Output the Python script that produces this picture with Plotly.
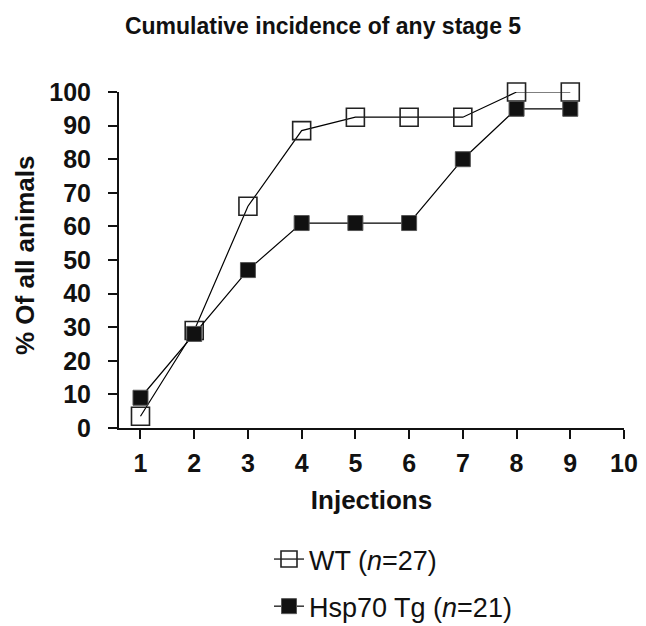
import plotly.graph_objects as go

injections = [1, 2, 3, 4, 5, 6, 7, 8, 9]
wt_values = [3.5, 29, 66, 88.5, 92.5, 92.5, 92.5, 100, 100]
hsp_values = [9, 28, 47, 61, 61, 61, 80, 95, 95]
x_ticks = [1, 2, 3, 4, 5, 6, 7, 8, 9, 10]
y_ticks = [0, 10, 20, 30, 40, 50, 60, 70, 80, 90, 100]

FONT = "Liberation Sans, Arial, sans-serif"
W, H = 646, 626

fig = go.Figure()
fig.add_trace(go.Scatter(
    x=injections, y=wt_values, mode="lines+markers",
    name="WT (<i>n</i>=27)", legendgroup="wt",
    line=dict(color="black", width=1.2),
    marker=dict(symbol="square-open", size=18, color="#222",
                line=dict(width=1.6, color="#222")),
    cliponaxis=False,
))
fig.add_trace(go.Scatter(
    x=injections, y=hsp_values, mode="lines+markers",
    name="Hsp70 Tg (<i>n</i>=21)", legendgroup="hsp",
    line=dict(color="black", width=1.2),
    marker=dict(symbol="square", size=15, color="#111",
                line=dict(width=1, color="#555")),
    cliponaxis=False,
))

fig.update_layout(
    width=W, height=H,
    margin=dict(l=119, r=22, t=92, b=198, autoexpand=False),
    paper_bgcolor="white", plot_bgcolor="white",
    font=dict(family=FONT, color="#111"),
    title=dict(text="<b>Cumulative incidence of any stage 5</b>",
               font=dict(size=23, family=FONT, color="#111"),
               x=0.5, xanchor="center", xref="container",
               y=1 - 26 / H, yanchor="middle", yref="container"),
    showlegend=True,
    legend=dict(
        x=269 / W, xref="container", xanchor="left",
        y=1 - 535 / H, yref="container", yanchor="top",
        font=dict(size=27, family=FONT, color="#111"),
        tracegroupgap=9, bgcolor="rgba(0,0,0,0)",
    ),
    xaxis=dict(
        range=[0.6, 10], tickvals=x_ticks, ticktext=[str(v) for v in x_ticks],
        showline=True, linecolor="#111", linewidth=2,
        ticks="outside", ticklen=9, tickwidth=2, tickcolor="#111",
        showgrid=False, zeroline=False, automargin=False,
        tickfont=dict(size=25, family=FONT, color="#111", weight="bold"),
        ticklabelstandoff=3,
        title=dict(text="<b>Injections</b>", font=dict(size=26, family=FONT, color="#111")),
    ),
    yaxis=dict(
        range=[0, 100], tickvals=y_ticks, ticktext=[str(v) for v in y_ticks],
        showline=True, linecolor="#111", linewidth=2,
        ticks="outside", ticklen=9, tickwidth=2, tickcolor="#111",
        showgrid=False, zeroline=False, automargin=False,
        tickfont=dict(size=25, family=FONT, color="#111", weight="bold"),
        ticklabelstandoff=12,
    ),
    annotations=[dict(
        text="<b>% Of all animals</b>", textangle=-90,
        xref="paper", yref="paper",
        x=-(119 - 25) / (W - 119 - 22), y=(H - 198 - 256) / (H - 92 - 198),
        xanchor="center", yanchor="middle", showarrow=False,
        font=dict(size=26, family=FONT, color="#111"),
    )],
)

fig.write_html("out.html")
